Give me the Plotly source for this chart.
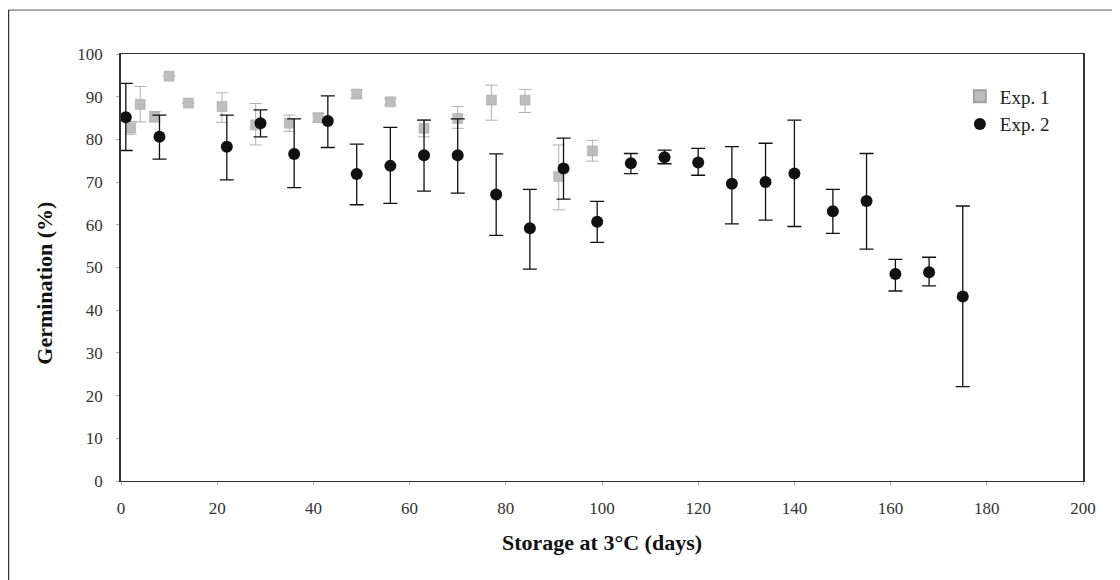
import plotly.graph_objects as go

# Exp. 1 (grey squares)
exp1_days = [2, 4, 7, 10, 14, 21, 28, 35, 41, 49, 56, 63, 70, 77, 84, 91, 98]
exp1_germ = [82.7, 88.2, 85.3, 94.8, 88.5, 87.7, 83.4, 83.8, 85.1, 90.6, 88.8, 82.6, 84.9, 89.2, 89.2, 71.3, 77.3]
exp1_err_up = [1.5, 4.2, 1.2, 0, 0, 3.2, 5.0, 1.9, 1.0, 1.0, 0.8, 2.0, 2.8, 3.5, 2.5, 7.4, 2.5]
exp1_err_dn = [1.5, 4.1, 1.2, 0, 0, 3.7, 4.7, 1.9, 1.0, 1.0, 0.8, 2.0, 2.3, 4.7, 2.9, 7.8, 2.4]

# Exp. 2 (black circles)
exp2_days = [1, 8, 22, 29, 36, 43, 49, 56, 63, 70, 78, 85, 92, 99, 106, 113, 120, 127, 134, 140, 148, 155, 161, 168, 175]
exp2_germ = [85.2, 80.6, 78.3, 83.8, 76.6, 84.3, 71.9, 73.8, 76.3, 76.3, 67.1, 59.2, 73.2, 60.7, 74.4, 75.8, 74.6,
             69.6, 70.0, 72.0, 63.2, 65.6, 48.5, 48.9, 43.2]
exp2_hi = [93.1, 85.7, 85.7, 86.9, 84.8, 90.2, 78.9, 82.8, 84.5, 84.8, 76.6, 68.3, 80.3, 65.5, 76.7, 77.5, 77.9,
           78.3, 79.1, 84.5, 68.3, 76.7, 51.9, 52.4, 64.4]
exp2_lo = [77.4, 75.4, 70.5, 80.6, 68.7, 78.1, 64.7, 65.0, 67.9, 67.4, 57.5, 49.6, 66.0, 55.9, 72.0, 74.3, 71.6,
           60.2, 61.1, 59.6, 58.0, 54.3, 44.5, 45.7, 22.1]

x_ticks = [0, 20, 40, 60, 80, 100, 120, 140, 160, 180, 200]
y_ticks = [0, 10, 20, 30, 40, 50, 60, 70, 80, 90, 100]

FONT = "Liberation Serif, Times New Roman, serif"

fig = go.Figure()

fig.add_trace(go.Scatter(
    x=exp1_days, y=exp1_germ, mode="markers", name="Exp. 1",
    marker=dict(symbol="square", size=10, color="#bdbdbd",
                line=dict(color="#a0a0a0", width=0.5)),
    error_y=dict(type="data", symmetric=False, array=exp1_err_up, arrayminus=exp1_err_dn,
                 color="#b0b0b0", thickness=1, width=6),
))

fig.add_trace(go.Scatter(
    x=exp2_days, y=exp2_germ, mode="markers", name="Exp. 2",
    marker=dict(symbol="circle", size=12, color="#111111"),
    error_y=dict(type="data", symmetric=False,
                 array=[h - v for h, v in zip(exp2_hi, exp2_germ)],
                 arrayminus=[v - l for l, v in zip(exp2_lo, exp2_germ)],
                 color="#111111", thickness=1.3, width=7),
))

# outer frame (top and left edges)
fig.add_shape(type="line", xref="paper", yref="paper", x0=-0.117, x1=1.2, y0=1.103, y1=1.103,
              line=dict(color="#555555", width=1))
fig.add_shape(type="line", xref="paper", yref="paper", x0=-0.117, x1=-0.117, y0=1.103, y1=-0.25,
              line=dict(color="#333333", width=1.5))

# y-axis title (placed slightly below centre as in the original)
fig.add_annotation(text="<b>Germination (%)</b>", xref="paper", yref="paper",
                   x=-0.079, y=0.462, textangle=-90, showarrow=False,
                   xanchor="center", yanchor="middle",
                   font=dict(family=FONT, size=22, color="#111111"))

fig.update_layout(
    width=1112, height=572,
    margin=dict(l=113, r=37, t=46, b=99),
    paper_bgcolor="white", plot_bgcolor="white",
    font=dict(family=FONT, size=17, color="#222222"),
    showlegend=True,
    legend=dict(x=0.872, y=0.945, xanchor="left", yanchor="top",
                font=dict(family=FONT, size=19, color="#222222"),
                bgcolor="rgba(0,0,0,0)", itemsizing="constant", tracegroupgap=2,
                itemwidth=30),
    xaxis=dict(range=[0, 200], tickvals=x_ticks, showgrid=False, zeroline=False,
               showline=True, linecolor="#333333", linewidth=1.2, mirror=True,
               ticks="outside", ticklen=3, tickcolor="#aaaaaa", ticklabelstandoff=8,
               tickfont=dict(family=FONT, size=17, color="#333333"),
               title=dict(text="<b>Storage at 3°C (days)</b>", standoff=18,
                          font=dict(family=FONT, size=22, color="#111111"))),
    yaxis=dict(range=[0, 100], tickvals=y_ticks, showgrid=False, zeroline=False,
               showline=True, linecolor="#333333", linewidth=1.5, mirror=True,
               ticks="outside", ticklen=3, tickcolor="#aaaaaa", ticklabelstandoff=10,
               tickfont=dict(family=FONT, size=17, color="#333333")),
)

fig.write_html("out.html")
